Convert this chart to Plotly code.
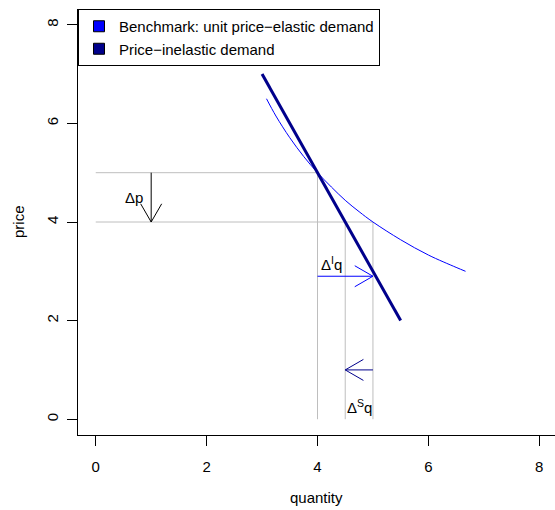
import math
import plotly.graph_objects as go

# ---------------- data ----------------
# price-inelastic demand (straight line)
inel_q = [3.0, 5.5]
inel_p = [7.0, 2.0]

# benchmark unit price-elastic demand
bench_q = [3.08, 3.25, 3.5, 3.75, 4.0, 4.25, 4.5, 4.75, 5.0, 5.5, 6.0, 6.5, 6.67]
bench_p = [6.5, 6.15, 5.71, 5.33, 5.0, 4.71, 4.44, 4.21, 4.0, 3.64, 3.33, 3.08, 3.0]

# grey guide lines
hline_p = [5.0, 4.0]
hline_q0 = [0.0, 0.0]
hline_q1 = [4.0, 5.0]
vline_q = [4.0, 4.5, 5.0]
vline_p0 = [0.0, 0.0, 0.0]
vline_p1 = [5.0, 4.0, 4.0]

# arrows (from -> to)
arrow_x0 = [1.0, 4.0, 5.0]
arrow_y0 = [5.0, 2.9, 1.0]
arrow_x1 = [1.0, 5.0, 4.5]
arrow_y1 = [4.0, 2.9, 1.0]
arrow_col = ["black", "blue", "darkblue"]

# labels
label_text = ["Δp", "Δ<sup>I</sup>q", "Δ<sup>S</sup>q"]
label_x = [1.0, 4.25, 4.75]
label_y = [4.5, 3.15, 0.25]

ticks = [0, 2, 4, 6, 8]
legend_names = ["Benchmark: unit price\u2212elastic demand", "Price\u2212inelastic demand"]
legend_cols = ["blue", "darkblue"]

# ---------------- layout geometry ----------------
W, H = 555, 510
ML, MR, MT, MB = 78, 0, 9, 75
PW, PH = W - ML - MR, H - MT - MB
SX = 55.44                       # px per x unit
XR = [-0.32, -0.32 + PW / SX]
YR = [-0.32, 8.32]
SY = PH / (YR[1] - YR[0])

FONT = "Liberation Sans, Arial, Helvetica, sans-serif"
FS = 15

fig = go.Figure()

# grey guide lines
for p, a, b in zip(hline_p, hline_q0, hline_q1):
    fig.add_trace(go.Scatter(x=[a, b], y=[p, p], mode="lines",
                             line=dict(color="#BEBEBE", width=1),
                             showlegend=False, hoverinfo="skip"))
for q, a, b in zip(vline_q, vline_p0, vline_p1):
    fig.add_trace(go.Scatter(x=[q, q], y=[a, b], mode="lines",
                             line=dict(color="#BEBEBE", width=1),
                             showlegend=False, hoverinfo="skip"))

# demand curves
fig.add_trace(go.Scatter(x=bench_q, y=bench_p, mode="lines", line_shape="spline",
                         line=dict(color="blue", width=1), showlegend=False))
fig.add_trace(go.Scatter(x=inel_q, y=inel_p, mode="lines",
                         line=dict(color="darkblue", width=3), showlegend=False))

# arrows with open V heads (R style)
HEAD = 21.0
ANG = math.radians(30)
for x0, y0, x1, y1, c in zip(arrow_x0, arrow_y0, arrow_x1, arrow_y1, arrow_col):
    dx = (x0 - x1) * SX
    dy = (y0 - y1) * SY
    L = math.hypot(dx, dy)
    ux, uy = dx / L, dy / L
    hx, hy = [], []
    for s in (1, -1):
        ca, sa = math.cos(s * ANG), math.sin(s * ANG)
        rx = ux * ca - uy * sa
        ry = ux * sa + uy * ca
        hx.append(x1 + rx * HEAD / SX)
        hy.append(y1 + ry * HEAD / SY)
    xs = [x0, x1, None, hx[0], x1, hx[1]]
    ys = [y0, y1, None, hy[0], y1, hy[1]]
    fig.add_trace(go.Scatter(x=xs, y=ys, mode="lines", line=dict(color=c, width=1),
                             showlegend=False, hoverinfo="skip"))

# labels
for t, x, y, i in zip(label_text, label_x, label_y, range(3)):
    if i == 0:
        fig.add_annotation(x=x, y=y, text=t, showarrow=False, xanchor="right",
                           xshift=-6, font=dict(size=FS, color="black", family=FONT))
    else:
        fig.add_annotation(x=x, y=y, text=t, showarrow=False,
                           font=dict(size=FS, color="black", family=FONT))

# legend entries
for n, c in zip(legend_names, legend_cols):
    fig.add_trace(go.Scatter(x=[None], y=[None], mode="markers", name=n,
                             marker=dict(symbol="square", size=11, color=c,
                                         line=dict(color="black", width=1))))

# axis titles
fig.add_annotation(text="quantity", xref="paper", yref="paper", x=0.5, y=0,
                   xanchor="center", yanchor="middle",
                   yshift=-62, showarrow=False, font=dict(size=FS, family=FONT, color="black"))
fig.add_annotation(text="price", xref="paper", yref="paper", x=0, y=0.5,
                   xanchor="center", yanchor="middle",
                   xshift=-60, textangle=-90, showarrow=False,
                   font=dict(size=FS, family=FONT, color="black"))

axis_common = dict(showgrid=False, zeroline=False, showline=True, linecolor="black",
                   linewidth=1, ticks="outside", ticklen=10, tickcolor="black",
                   tickwidth=1, tickvals=ticks, ticktext=[str(t) for t in ticks],
                   tickfont=dict(size=FS, family=FONT, color="black"))

fig.update_layout(
    width=W, height=H,
    margin=dict(l=ML, r=MR, t=MT, b=MB, pad=0),
    paper_bgcolor="white", plot_bgcolor="white",
    xaxis=dict(range=XR, ticklabelstandoff=8, **axis_common),
    yaxis=dict(range=YR, tickangle=-90, ticklabelstandoff=3, **axis_common),
    showlegend=True,
    legend=dict(x=0, y=1, xanchor="left", yanchor="top", bgcolor="white",
                bordercolor="black", borderwidth=1,
                font=dict(size=FS, family=FONT, color="black")),
)

fig.write_html("out.html")
